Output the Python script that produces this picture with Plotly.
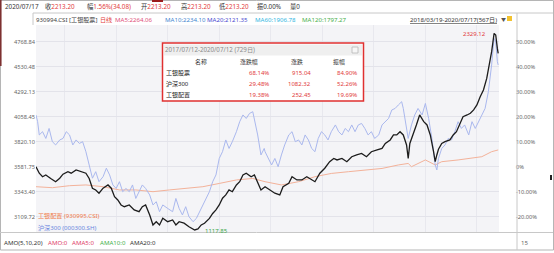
import plotly.graph_objects as go

W, H = 554, 253

# ---------------- data (trading-day index, % change) ----------------
stock_day = [0,4,8,12,18,24,29,33,39,43,
             49,55,61,65,69,73,77,82,88,92,
             96,100,104,108,114,120,126,130,134,139,
             143,147,151,155,161,167,171,175,181,187,
             194,198,202,206,212,216,220,224,228,232,
             236,240,245,249,253,257,263,267,271,275,
             280,286,292,298,302,309,313,319,325,331,
             337,341,347,353,359,364,368,374,380,386,
             392,398,404,410,417,423,427,433,437,441,
             445,449,453,455,457,461,465,469,474,478,
             482,486,488,490,492,496,500,506,510,514,
             518,522,527,531,535,539,543,547,551,554,
             557,560,562,564,565]
stock_pct = [0,-2.6,-4,-3.3,-4.7,-6,-4.6,-3,-2,-2.6,
             -1.3,-2,-2.6,-4.7,-8.6,-9.3,-10.6,-8.6,-7.3,-8.6,
             -12,-13.3,-15.3,-16,-15.3,-17.3,-18,-16,-15.3,-19.3,
             -23.3,-22,-23.3,-20.6,-22,-21.3,-23.3,-22,-22.6,-24,
             -25.3,-24.9,-23.3,-22.6,-20.7,-18.7,-17.3,-15.3,-12.6,-11.3,
             -9.3,-10,-7.3,-6,-3.3,-2.6,-4,-3.3,-6,-9.3,
             -8,-9.3,-10.6,-11.3,-8,-6.6,-4,-5.3,-5.3,-4,
             -5.3,-6,-2.6,-0.6,2,3.3,2.7,3.3,2,4,
             4.7,5.3,4,6,6.7,7.3,9.3,10.7,12.7,12.7,
             14,12.7,8.7,3.3,9.3,12.7,16.7,20.7,18,16.7,
             12.7,6,2,4.7,7,9.3,10,10.7,12.7,14,
             17.3,20,20.7,21.4,22.7,24.7,28,30.7,35.3,40.7,
             46,53.3,52.7,47.3,45.3]

hs300_day = [0,2,4,8,12,16,20,24,29,33,
             37,41,45,49,53,57,61,65,69,73,
             77,82,86,90,94,98,102,106,110,114,
             118,122,126,130,134,139,143,147,151,155,
             161,167,171,175,179,183,187,192,196,200,
             204,208,212,216,220,224,228,232,236,240,
             245,249,253,257,261,265,267,271,275,279,
             280,284,288,292,296,300,304,309,313,317,
             321,325,329,333,337,341,345,349,353,357,
             361,366,370,374,378,382,386,390,394,398,
             402,406,410,414,419,423,427,431,435,439,
             443,447,449,453,455,459,463,467,472,476,
             480,484,488,490,492,496,500,504,508,512,
             516,520,524,529,533,537,541,545,549,553,
             557,560,562,564,565]
hs300_pct = [20.7,18,12.7,14,11.3,15.3,10,8.7,10.7,11.3,
             14,12.7,8.7,10.7,9.3,10,6,0.7,-4.6,-2,
             -6,-4,-0.6,-3.3,-7.3,-8.7,-6,-10,-8.7,-10,
             -7.3,-12.7,-10,-7.3,-8.7,-11.3,-15.3,-14,-18,-15.3,
             -16.7,-18,-12.7,-16.7,-19.3,-16,-20,-22,-20.7,-18,
             -15.3,-12.7,-10,-6,-3.3,3.3,6,10.7,7.3,10,
             14,18,20.7,19.3,21.3,22,19.3,12.7,4.7,7.3,
             6,3.3,0.7,3.3,0,4.7,8.7,12.7,14,10,
             10.7,8.7,12.7,10.7,7.3,6,11.3,14,12.7,10.7,
             14,16.7,14,12.7,15.3,14,16.7,14,16.7,17.3,
             15.3,12.7,14,11.3,12.7,16.7,18,19.3,22.7,23.3,
             24.7,26,23.3,14,11.3,16.7,20.7,23.3,20.7,25.3,
             19.3,11.3,0.7,-1.3,3.3,7.3,8.7,11.3,10.7,14,
             18,15.3,16.7,12.7,18,15.3,18,20.7,23.3,30,
             40.7,51.3,50,42,40.7]

alloc_day = [0,20,41,61,82,102,122,143,163,183,
             204,224,245,265,280,300,321,341,361,382,
             402,423,443,455,459,476,488,496,516,533,
             545,557,565]
alloc_pct = [-8,-8.4,-7.6,-7.3,-8,-9.3,-9.3,-10,-9.3,-8.7,
             -8,-6.7,-5.3,-4.7,-6,-7.3,-6,-4,-2.7,-2,
             -1.3,-0.7,0.7,1.3,0,2.7,0.7,2,2.7,3.3,
             4,6,6.7]

pct_ticks = [50, 40, 30, 20, 10, 0, -10, -20]
pct_labels = ["50.00%", "40.00%", "30.00%", "20.00%", "10.00%", "0%", "-10.00%", "-20.00%"]
price_labels = ["4768.84", "4530.48", "4292.13", "4058.45", "3820.10", "3581.75", "3343.40", "3109.72"]

peak_label = "2329.12"
low_label = "1117.85"

tbl_title = "2017/07/12-2020/07/12 (729日)"
tbl_cols = ["名称", "涨跌幅", "涨跌", "振幅"]
tbl_names = ["工银股票", "沪深300", "工银配置"]
tbl_chg_pct = ["68.14%", "29.48%", "19.38%"]
tbl_chg = ["915.04", "1082.32", "252.45"]
tbl_amp = ["84.90%", "52.26%", "19.69%"]

quote_date = "2020/07/17"
quote_labels = ["收", "幅", "开", "高", "低", "振", "量"]
quote_values = ["2213.20", "1.56%(34.08)", "2213.20", "2213.20", "2213.20", "0.00%", "0"]

ma_labels = ["MA5:2264.06", "MA10:2234.10", "MA20:2121.35", "MA60:1906.78", "MA120:1797.27"]
amo_labels = ["AMO(5,10,20)", "AMO:0", "AMA5:0", "AMA10:0", "AMA20:0"]

# ---------------- styling helpers ----------------
FONT = "Noto Sans, Noto Sans CJK SC, sans-serif"
RED = "#e23b3b"


def px(x):
    return x / W


def py(y):
    return 1 - y / H


Y_RANGE = [-26.12, 56.68]

fig = go.Figure()
fig.add_trace(go.Scatter(x=alloc_day, y=alloc_pct, mode="lines",
                         line=dict(color="#f3b29a", width=1), yaxis="y", hoverinfo="skip"))
fig.add_trace(go.Scatter(x=hs300_day, y=hs300_pct, mode="lines",
                         line=dict(color="#aab8ee", width=1), yaxis="y", hoverinfo="skip"))
fig.add_trace(go.Scatter(x=stock_day, y=stock_pct, mode="lines",
                         line=dict(color="#1c1c1c", width=1.3), yaxis="y2", hoverinfo="skip"))

ann = []


def text(x, y, s, color="#333", size=6.1, anchor="left", yanchor="middle", **kw):
    ann.append(dict(x=px(x), y=py(y), xref="paper", yref="paper", text=s, showarrow=False,
                    xanchor=anchor, yanchor=yanchor, font=dict(family=FONT, size=size, color=color),
                    borderpad=0, **kw))


# header row 1
text(4, 7, quote_date, size=6.3)
quote_x = [44, 86, 140, 180, 218, 256, 289]
for i, (lab, val) in enumerate(zip(quote_labels, quote_values)):
    vcol = RED if i < 5 else "#333"
    text(quote_x[i], 7, f"{lab}<span style='color:{vcol}'>{val}</span>", size=6.3)

# header row 2
text(35, 19, "930994.CSI [工银股票]", color="#444")
text(99, 19, "日线", color=RED)
ma_x = [114, 164, 206, 254, 301]
ma_colors = ["#e0507a", "#3f86d0", "#4a4ad0", "#2fb6df", "#49b04c"]
for xx, lab, c in zip(ma_x, ma_labels, ma_colors):
    text(xx, 19, lab, color=c)
text(409, 19, "<u>2018/03/19-2020/07/17(567日)</u>", color="#333")
text(500, 19, "▼", color="#555", size=5)

# bottom row
amo_x = [3, 47, 71, 99, 129]
amo_colors = ["#333", "#e0406a", "#e0406a", "#3fb04a", "#333"]
for xx, lab, c in zip(amo_x, amo_labels, amo_colors):
    text(xx, 242, lab, color=c)
text(520, 242, "15", color="#666")

# legend labels inside plot
text(37, 215, "工银配置 (930995.CSI)", color="#f07a4a", size=6.1)
text(37, 227, "沪深300 (000300.SH)", color="#6a86e0", size=6.1)

# info table
text(164, 50, tbl_title, color="#8a8a8a", size=6.2)
col_cx = [201, 249, 297, 339]
for cx, lab in zip(col_cx, tbl_cols):
    text(cx, 62, lab, color="#333", size=5.9, anchor="center")
row_y = [73, 84, 95]
for ry, n, a, b, c in zip(row_y, tbl_names, tbl_chg_pct, tbl_chg, tbl_amp):
    text(165, ry, n, color="#222", size=6)
    text(270, ry, a, color=RED, size=6, anchor="right")
    text(312, ry, b, color=RED, size=6, anchor="right")
    text(358, ry, c, color=RED, size=6, anchor="right")

# extreme labels placed at data extremes
i_max = max(range(len(stock_pct)), key=lambda i: stock_pct[i])
i_min = min(range(len(stock_pct)), key=lambda i: stock_pct[i])
ann.append(dict(x=stock_day[i_max], y=stock_pct[i_max], xref="x", yref="y2", text=peak_label,
                showarrow=False, xanchor="right", yanchor="middle", xshift=-6, yshift=-1,
                font=dict(family=FONT, size=6, color=RED)))
ann.append(dict(x=stock_day[i_min], y=stock_pct[i_min], xref="x", yref="y2", text=low_label,
                showarrow=False, xanchor="left", yanchor="middle", xshift=8, yshift=-1,
                font=dict(family=FONT, size=6, color="#3aa84a")))

shapes = []


def line(x0, y0, x1, y1, color="#bdbdbd", width=1):
    shapes.append(dict(type="line", xref="paper", yref="paper", x0=px(x0), y0=py(y0),
                       x1=px(x1), y1=py(y1), line=dict(color=color, width=width)))


def rect(x0, y0, x1, y1, fill=None, color="#bdbdbd", width=1):
    shapes.append(dict(type="rect", xref="paper", yref="paper", x0=px(x0), y0=py(y0),
                       x1=px(x1), y1=py(y1), fillcolor=fill or "rgba(0,0,0,0)",
                       line=dict(color=color, width=width), layer="above"))


# frame
rect(0.5, 0.5, 553.5, 250, color="#b5b5b5")
line(33, 13, 553, 13, color="#c8c8c8")
line(33, 13, 33, 25, color="#c8c8c8")
line(517, 13, 517, 250, color="#c8c8c8")
line(0, 232.5, 553, 232.5, color="#c8c8c8")
line(0.8, 0, 0.8, 66, color="#7a2a2a", width=1.5)
rect(152, 0, 163, 2, fill="#9b1c1c", color="#9b1c1c", width=0)
rect(507, 16, 512, 21, fill="#f2c230", color="#f2c230", width=0)
rect(550, 175, 552, 180, fill="#222", color="#222", width=0)

# info box
rect(162.5, 43, 363.5, 101, fill="white", color="#e03030", width=1.5)
rect(164, 44.5, 362, 55.5, fill="#efefef", color="#efefef", width=0)
rect(352, 47, 358, 53, fill="#f6f6f6", color="#b8b8b8", width=0.8)

fig.update_layout(
    width=W, height=H, margin=dict(l=0, r=0, t=0, b=0),
    paper_bgcolor="white", plot_bgcolor="#f4f4f7",
    showlegend=False,
    font=dict(family=FONT, size=6, color="#555"),
    xaxis=dict(domain=[px(36), px(499)], range=[0, 566], showticklabels=False,
               showgrid=True, gridcolor="#e8e8ee", gridwidth=1, dtick=63, tick0=35,
               zeroline=False, showline=False, ticks=""),
    yaxis=dict(domain=[py(232), py(25)], range=Y_RANGE, tickvals=pct_ticks, ticktext=price_labels,
               tickfont=dict(family=FONT, size=5.7, color="#666"), showgrid=True,
               gridcolor="#e3e3ea", zeroline=False, ticks="", showline=False),
    yaxis2=dict(overlaying="y", side="right", anchor="free", position=px(515), range=Y_RANGE,
                tickvals=pct_ticks, ticktext=pct_labels,
                tickfont=dict(family=FONT, size=5.7, color="#666"), showgrid=False,
                zeroline=False, ticks="", showline=False),
    annotations=ann, shapes=shapes,
)

fig.write_html("out.html")
